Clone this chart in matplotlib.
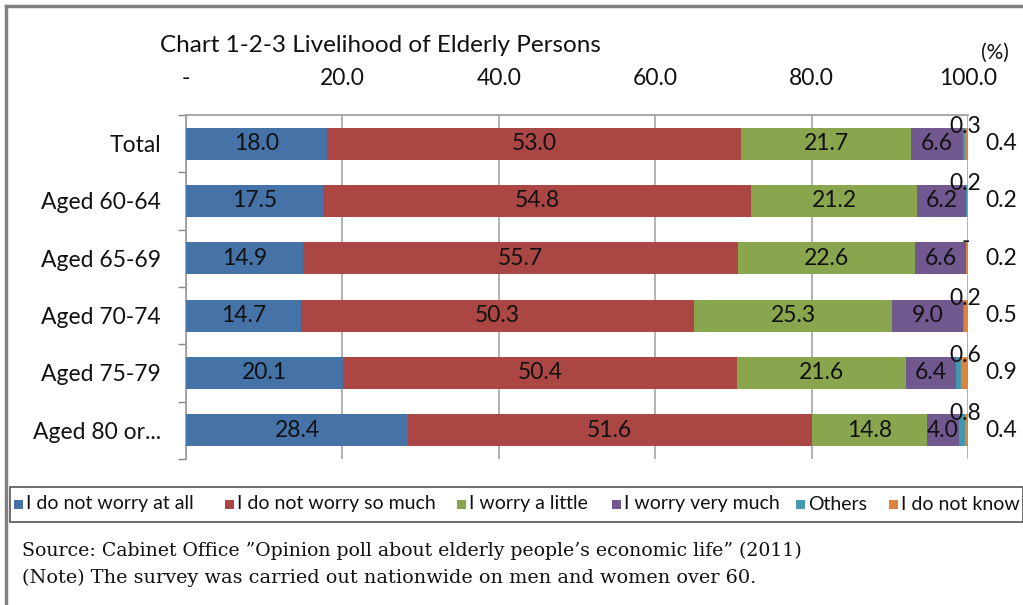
import numpy as np
import matplotlib
matplotlib.use("Agg")
import matplotlib.pyplot as plt
from matplotlib.patches import Rectangle
from matplotlib.lines import Line2D

# data
groups = ["Total", "Aged 60-64", "Aged 65-69", "Aged 70-74", "Aged 75-79", "Aged 80 or..."]
series = ["I do not worry at all", "I do not worry so much", "I worry a little",
          "I worry very much", "Others", "I do not know"]
not_at_all = [18.0, 17.5, 14.9, 14.7, 20.1, 28.4]
not_so_much = [53.0, 54.8, 55.7, 50.3, 50.4, 51.6]
a_little = [21.7, 21.2, 22.6, 25.3, 21.6, 14.8]
very_much = [6.6, 6.2, 6.6, 9.0, 6.4, 4.0]
others = [0.3, 0.2, 0.0, 0.2, 0.6, 0.8]
dont_know = [0.4, 0.2, 0.2, 0.5, 0.9, 0.4]
xticks = [0, 20, 40, 60, 80, 100]
xtick_labels = ["-", "20.0", "40.0", "60.0", "80.0", "100.0"]

colors = ["#4572A7", "#AA4643", "#89A54E", "#71588F", "#4198AF", "#DB843D"]
sans = ["Lato", "DejaVu Sans"]
serif = ["DejaVu Serif"]

W, H = 1023, 605
fig = plt.figure(figsize=(W / 100, H / 100), dpi=100)

def fx(px):
    return px / W

def fy(py):
    return 1 - py / H

ax = fig.add_axes([fx(186), fy(459), fx(968) - fx(186), fy(115) - fy(459)])

vals = [not_at_all, not_so_much, a_little, very_much, others, dont_know]
y = np.arange(len(groups))
left = np.zeros(len(groups))
for i, v in enumerate(vals):
    v = np.array(v)
    ax.barh(y, v, left=left, height=0.56, color=colors[i], zorder=3)
    for j in range(len(groups)):
        if i < 4:
            ax.text(left[j] + v[j] / 2, y[j], f"{v[j]:.1f}", ha="center", va="center",
                    fontsize=16.5, family=sans, color="#111111", zorder=4)
        elif i == 4:
            # Others: label sits above the bar end, zero shows as "-"
            lab = "-" if v[j] == 0 else f"{v[j]:.1f}"
            ax.text(99.7, y[j] - 0.3, lab, ha="center", va="center",
                    fontsize=16.5, family=sans, color="#111111", zorder=4, clip_on=False)
        else:
            ax.text(104.2, y[j], f"{v[j]:.1f}", ha="center", va="center",
                    fontsize=16.5, family=sans, color="#111111", zorder=4, clip_on=False)
    left = left + v

ax.set_xlim(0, 100)
ax.set_ylim(len(groups) - 0.5, -0.5)
ax.xaxis.tick_top()
ax.set_xticks(xticks)
ax.set_xticklabels(xtick_labels, fontsize=16.5, family=sans, color="#111111")
ax.tick_params(axis="x", length=0, pad=19)
ax.set_yticks(y)
ax.set_yticklabels(groups, fontsize=16.5, family=sans, color="#111111")
ax.tick_params(axis="y", which="major", length=0, pad=18)
ax.set_yticks(np.arange(-0.5, len(groups)), minor=True)
ax.tick_params(axis="y", which="minor", length=6, color="#888888", width=1)
ax.grid(axis="x", color="#A6A6A6", linewidth=1.2, zorder=0)
for s in ["right", "bottom"]:
    ax.spines[s].set_visible(False)
for s in ["left", "top"]:
    ax.spines[s].set_color("#999999")
    ax.spines[s].set_linewidth(1.2)

fig.text(fx(160), fy(45), "Chart 1-2-3 Livelihood of Elderly Persons", ha="left", va="center",
         fontsize=17.5, family=sans, color="#111111")
fig.text(fx(995), fy(53), "(%)", ha="center", va="center", fontsize=15, family=sans, color="#111111")

# outer frame
fig.add_artist(Line2D([fx(6), fx(6)], [0, fy(6)], color="#808080", lw=2.5))
fig.add_artist(Line2D([fx(6), 1], [fy(6), fy(6)], color="#808080", lw=2.5))

# legend box, entries placed by hand
fig.add_artist(Rectangle((fx(10), fy(522)), 1 - fx(10), fy(487) - fy(522),
                         fill=False, edgecolor="#555555", lw=1.2, transform=fig.transFigure))
leg_x = [14, 225, 457, 612, 796, 889]
for k, name in enumerate(series):
    fig.add_artist(Rectangle((fx(leg_x[k]), fy(509)), fx(9), fy(500) - fy(509),
                             facecolor=colors[k], edgecolor="none", transform=fig.transFigure))
    fig.text(fx(leg_x[k] + 12), fy(504), name, ha="left", va="center",
             fontsize=14, family=sans, color="#111111")

fig.text(fx(22), fy(551), "Source: Cabinet Office \u201dOpinion poll about elderly people\u2019s economic life\u201d (2011)",
         ha="left", va="center", fontsize=13.6, family=serif, color="#111111")
fig.text(fx(22), fy(578), "(Note) The survey was carried out nationwide on men and women over 60.",
         ha="left", va="center", fontsize=13.9, family=serif, color="#111111")

fig.savefig("out.png", dpi=100)
